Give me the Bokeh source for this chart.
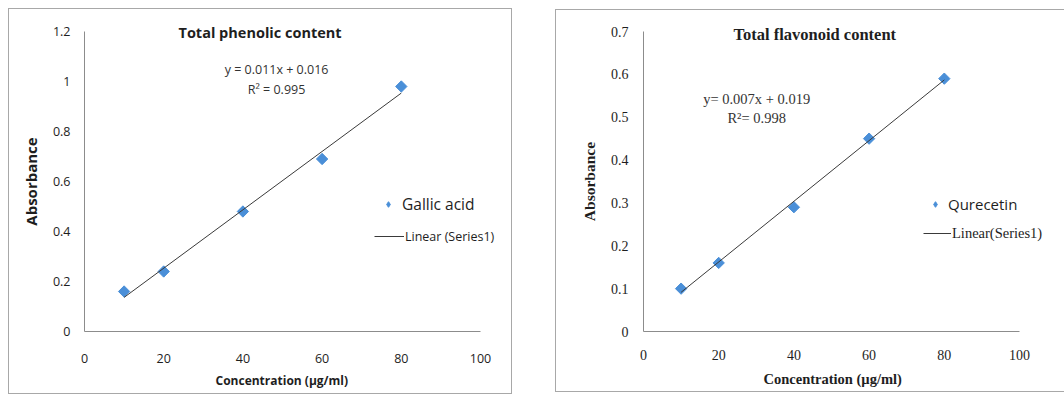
import numpy as np
from bokeh.plotting import figure
from bokeh.models import Range1d, FixedTicker, Label, Legend, LegendItem, Title
from bokeh.layouts import row
from bokeh.embed import file_html
from bokeh.resources import INLINE

# ---------------- data ----------------
conc_phenolic = [10, 20, 40, 60, 80]
abs_gallic = [0.16, 0.24, 0.48, 0.69, 0.98]

conc_flavonoid = [10, 20, 40, 60, 80]
abs_quercetin = [0.10, 0.16, 0.29, 0.45, 0.59]

x_ticks = [0, 20, 40, 60, 80, 100]
x_tick_labels = ["0", "20", "40", "60", "80", "100"]

y_ticks_left = [0, 0.2, 0.4, 0.6, 0.8, 1.0, 1.2]
y_tick_labels_left = ["0", "0.2", "0.4", "0.6", "0.8", "1", "1.2"]

y_ticks_right = [0, 0.1, 0.2, 0.3, 0.4, 0.5, 0.6, 0.7]
y_tick_labels_right = ["0", "0.1", "0.2", "0.3", "0.4", "0.5", "0.6", "0.7"]

title_left = "Total phenolic content"
title_right = "Total flavonoid content"
eq_left = ["y = 0.011x + 0.016", "R\u00b2 = 0.995"]
eq_right = ["y= 0.007x + 0.019", "R\u00b2= 0.998"]
series_left = "Gallic acid"
series_right = "Qurecetin"
trend_left = "Linear (Series1)"
trend_right = "Linear(Series1)"
x_title = "Concentration (\u00b5g/ml)"
y_title = "Absorbance"

BLUE = "#4A8FD8"
AXIS = "#8c8c8c"
TXT = "#1e1e1e"
BORDER = "#a8a8a8"


def css_lines(lines):
    """chart-area border drawn as CSS background strips (x, y, w, h)."""
    g = "linear-gradient(%s,%s)" % (BORDER, BORDER)
    return ", ".join("%s %dpx %dpx / %dpx %dpx no-repeat" % (g, x, y, w, h)
                     for (x, y, w, h) in lines)


def make_chart(xs, ys, y_max, yt, ytl, cfg):
    w, h = cfg["w"], cfg["h"]
    ml, mr, mt, mb = cfg["ml"], cfg["mr"], cfg["mt"], cfg["mb"]
    x_end = 100 * (w - ml - mr) / cfg["px100"]
    y_end = y_max * (h - mt - mb) / cfg["pxy"]
    p = figure(width=w, height=h,
               x_range=Range1d(0, x_end), y_range=Range1d(0, y_end),
               output_backend="svg", toolbar_location=None,
               min_border_left=ml, min_border_right=mr,
               min_border_top=mt, min_border_bottom=mb)
    p.styles = {"background": css_lines(cfg["border"])}
    p.outline_line_color = None
    p.xgrid.visible = False
    p.ygrid.visible = False
    p.background_fill_color = "white"
    p.border_fill_alpha = 0

    p.xaxis.ticker = FixedTicker(ticks=x_ticks)
    p.xaxis.major_label_overrides = dict(zip(x_ticks, x_tick_labels))
    p.xaxis.bounds = (0, 100)
    p.yaxis.ticker = FixedTicker(ticks=yt)
    p.yaxis.major_label_overrides = dict(zip(yt, ytl))
    p.yaxis.bounds = (0, y_max)

    for ax in (p.xaxis[0], p.yaxis[0]):
        ax.axis_line_color = AXIS
        ax.axis_line_width = 1
        ax.major_tick_line_color = None
        ax.minor_tick_line_color = None
        ax.major_tick_out = 0
        ax.major_tick_in = 0
        ax.minor_tick_out = 0
        ax.major_label_text_font = cfg["font"]
        ax.major_label_text_font_size = cfg["tick_fs"]
        ax.major_label_text_color = TXT

    p.xaxis.major_label_standoff = cfg["x_std"]
    p.yaxis.axis_label = y_title
    p.yaxis.axis_label_text_font = cfg["font"]
    p.yaxis.axis_label_text_font_style = "bold"
    p.yaxis.axis_label_text_color = TXT
    p.yaxis.axis_label_text_font_size = cfg["yt_fs"]
    p.yaxis.major_label_standoff = cfg["y_std"]
    p.yaxis.axis_label_standoff = cfg["yt_std"]

    # chart title (above the frame, left-anchored)
    p.add_layout(Title(text=cfg["title"], align="left",
                       offset=cfg["title_off"], vertical_align="bottom",
                       standoff=cfg["title_std"], text_font=cfg["font"],
                       text_font_style="bold",
                       text_font_size=cfg["title_fs"], text_color=TXT),
                 "above")
    # x-axis title (below), left-anchored so it is centred under 0..100
    p.add_layout(Title(text=x_title, align="left", offset=cfg["xt_off"],
                       vertical_align="bottom", standoff=cfg["xt_std"],
                       text_font=cfg["font"], text_font_style="bold",
                       text_font_size=cfg["xt_fs"], text_color=TXT),
                 "below")

    p.scatter(xs, ys, marker="square", angle=np.pi / 4, size=8,
              fill_color=BLUE, line_color=BLUE)
    # legend-only key glyph (not drawn in the plot area)
    key = p.scatter([np.nan], [np.nan], marker="diamond", size=12.5,
                    fill_color=BLUE, line_color=BLUE)

    fit = np.polyfit(xs, ys, 1)
    tx = [min(xs), max(xs)]
    ty = list(np.polyval(fit, tx))
    ln = p.line(tx, ty, line_color="#3a3a3a", line_width=1)

    for i, t in enumerate(cfg["eq"]):
        p.add_layout(Label(x=cfg["eq_x"], y=cfg["eq_y"][i], text=t,
                           text_align="center", text_baseline="middle",
                           text_font=cfg["font"], text_font_size=cfg["eq_fs"],
                           text_color="#333333"))

    leg1 = Legend(items=[LegendItem(label=cfg["series"], renderers=[key])],
                  location=cfg["leg1_loc"], glyph_width=14, glyph_height=20,
                  label_height=20, label_standoff=cfg["leg1_std"], padding=0,
                  margin=0, spacing=0, border_line_color=None,
                  background_fill_alpha=0, label_text_font=cfg["leg1_font"],
                  label_text_font_size=cfg["leg1_fs"], label_text_color=TXT)
    leg2 = Legend(items=[LegendItem(label=cfg["trend"], renderers=[ln])],
                  location=cfg["leg2_loc"], glyph_width=cfg["leg2_w"],
                  glyph_height=20, label_height=20, label_standoff=1,
                  padding=0, margin=0, spacing=0, border_line_color=None,
                  background_fill_alpha=0, label_text_font=cfg["font"],
                  label_text_font_size=cfg["leg2_fs"], label_text_color=TXT)
    p.add_layout(leg1)
    p.add_layout(leg2)
    return p


cfg_left = dict(w=512, h=394, ml=84, mr=4, mt=31, mb=63,
                px100=396, pxy=300,
                border=[(8, 8, 504, 1), (8, 8, 1, 386), (511, 8, 1, 386),
                        (8, 393, 504, 1)],
                font="Open Sans", tick_fs="12.5px",
                xt_fs="12px", yt_fs="15px", x_std=22, xt_std=9, xt_off=131,
                y_std=14, yt_std=9, title=title_left,
                title_off=94, title_std=-20, title_fs="14.5px", eq=eq_left,
                eq_x=48.5, eq_y=[1.048, 0.968], eq_fs="12.5px",
                series=series_left, trend=trend_left, leg1_loc=(297, 116),
                leg1_std=7, leg1_font="Open Sans", leg1_fs="15.5px",
                leg2_loc=(290, 85), leg2_w=30, leg2_fs="12.5px")

cfg_right = dict(w=552, h=394, ml=131, mr=4, mt=31, mb=63,
                 px100=376, pxy=300,
                 border=[(43, 9, 509, 1), (43, 9, 1, 383), (43, 391, 509, 1)],
                 font="Liberation Serif", tick_fs="14px", xt_fs="14.5px",
                 yt_fs="15.5px", x_std=18, xt_std=12, xt_off=120, y_std=15,
                 yt_std=10, title=title_right, title_off=90, title_std=-25,
                 title_fs="16.5px", eq=eq_right, eq_x=30.1,
                 eq_y=[0.542, 0.498], eq_fs="14.5px",
                 series=series_right, trend=trend_right, leg1_loc=(285, 117),
                 leg1_std=6, leg1_font="Open Sans", leg1_fs="15px",
                 leg2_loc=(280, 88), leg2_w=28, leg2_fs="14.5px")

p_left = make_chart(conc_phenolic, abs_gallic, 1.2, y_ticks_left,
                    y_tick_labels_left, cfg_left)
p_right = make_chart(conc_flavonoid, abs_quercetin, 0.7, y_ticks_right,
                     y_tick_labels_right, cfg_right)

layout = row(p_left, p_right)

open("out.html", "w").write(file_html(layout, INLINE))
